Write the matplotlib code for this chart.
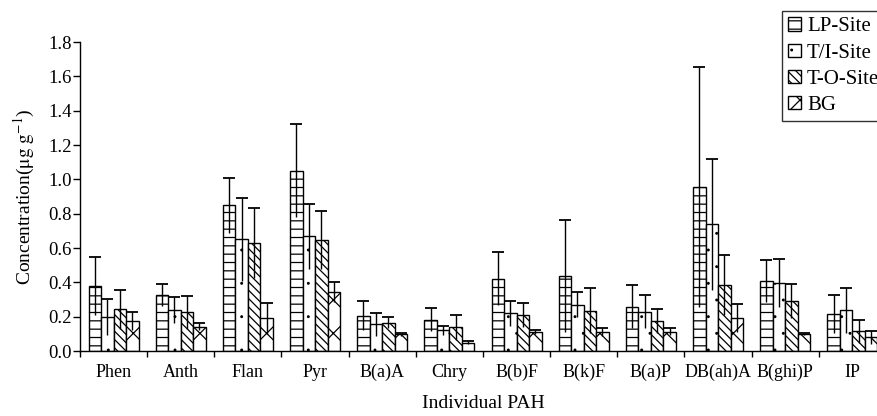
import numpy as np
import matplotlib
matplotlib.use("Agg")
import matplotlib.pyplot as plt
import matplotlib.hatch
from matplotlib.ticker import FixedLocator, FormatStrFormatter

# mean concentrations and standard deviations (ug/g)
pah = ['Phen', 'Anth', 'Flan', 'Pyr', 'B(a)A', 'Chry', 'B(b)F', 'B(k)F',
       'B(a)P', 'DB(ah)A', 'B(ghi)P', 'IP']

lp_site = [0.380, 0.325, 0.850, 1.050, 0.207, 0.184, 0.422, 0.436, 0.258, 0.955, 0.408, 0.214]
lp_sd   = [0.170, 0.065, 0.160, 0.270, 0.087, 0.066, 0.155, 0.327, 0.126, 0.700, 0.120, 0.110]

ti_site = [0.200, 0.240, 0.650, 0.668, 0.155, 0.120, 0.219, 0.271, 0.229, 0.738, 0.394, 0.237]
ti_sd   = [0.105, 0.075, 0.244, 0.188, 0.068, 0.025, 0.071, 0.075, 0.097, 0.382, 0.140, 0.132]

to_site = [0.244, 0.226, 0.629, 0.648, 0.165, 0.140, 0.211, 0.236, 0.175, 0.384, 0.291, 0.116]
to_sd   = [0.114, 0.096, 0.205, 0.169, 0.033, 0.073, 0.068, 0.132, 0.068, 0.176, 0.101, 0.068]

bg      = [0.174, 0.143, 0.190, 0.343, 0.097, 0.050, 0.110, 0.112, 0.113, 0.194, 0.100, 0.080]
bg_sd   = [0.052, 0.023, 0.090, 0.057, 0.008, 0.010, 0.012, 0.023, 0.019, 0.082, 0.007, 0.036]

series = [("LP-Site", lp_site, lp_sd, '--'),
          ("T/I-Site", ti_site, ti_sd, '.'),
          ("T-O-Site", to_site, to_sd, '\\\\\\\\'),
          ("BG", bg, bg_sd, 'x')]

# smaller dots for the T/I hatch
matplotlib.hatch.SmallFilledCircles.size = 0.05

plt.rcParams['font.family'] = ['Liberation Serif', 'DejaVu Serif']
plt.rcParams['hatch.linewidth'] = 0.9
plt.rcParams['mathtext.fontset'] = 'stix'

fig = plt.figure(figsize=(8.78, 4.16), dpi=100)
ax = fig.add_axes([0.0911, 0.156, 0.918, 0.743])

x = np.arange(len(pah))
w = 0.186
handles = []
for i, (name, vals, sd, hatch) in enumerate(series):
  pos = x + (i - 1.5) * w
  b = ax.bar(pos, vals, w, color='white', edgecolor='black', linewidth=1.0,
             hatch=hatch, label=name, zorder=2)
  handles.append(b)
  vals = np.array(vals)
  sd = np.array(sd)
  ax.vlines(pos, vals - sd, vals + sd, color='black', linewidth=1.0, zorder=3)
  ax.plot(pos, vals + sd, linestyle='none', marker='_', markersize=9,
          markeredgewidth=1.3, color='black', zorder=3)

ax.set_xlim(-0.5, len(pah) - 0.5)
ax.set_ylim(0, 1.8)
ax.set_yticks(np.arange(0, 1.81, 0.2))
ax.yaxis.set_major_formatter(FormatStrFormatter('%.1f'))
ax.set_xticks(x)
ax.set_xticklabels(pah)
ax.xaxis.set_minor_locator(FixedLocator(np.arange(-0.5, len(pah) + 0.5, 1)))
ax.tick_params(axis='x', which='major', length=0, labelsize=13, pad=9)
ax.tick_params(axis='x', which='minor', length=4, width=1.0, direction='out')
ax.tick_params(axis='y', length=5, width=1.0, labelsize=13.5, direction='out', pad=1)

for s in ['top', 'right']:
  ax.spines[s].set_visible(False)
for s in ['left', 'bottom']:
  ax.spines[s].set_linewidth(1.0)

ax.set_xlabel("Individual PAH", fontsize=14, labelpad=10)
ax.set_ylabel(r"Concentration($\mathrm{\mu g\ g^{-1}}$)", fontsize=14, labelpad=8)

leg = fig.legend(handles=handles, loc='upper left', bbox_to_anchor=(782 / 878, 1 - 11 / 416),
                 fontsize=15, frameon=True, fancybox=False, handlelength=0.6,
                 handleheight=0.6, handletextpad=0.3, borderpad=0.3, labelspacing=0.35,
                 borderaxespad=0)
leg.get_frame().set_edgecolor('black')
leg.get_frame().set_linewidth(1.0)

fig.savefig("out.png", dpi=100)
